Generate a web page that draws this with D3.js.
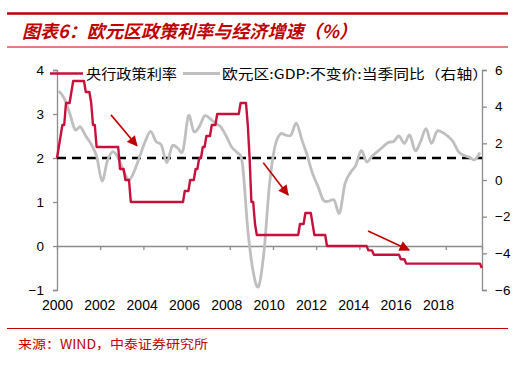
<!DOCTYPE html>
<html><head><meta charset="utf-8">
<script src="https://cdn.jsdelivr.net/npm/d3@7"></script>
<style>html,body{margin:0;padding:0;background:#fff;}svg{display:block;}</style>
</head><body>
<script>
// ---- data ----
const titleText = "图表6：欧元区政策利率与经济增速（%）";
const sourceText = "来源：WIND，中泰证券研究所";
const seriesNames = ["央行政策利率", "欧元区:GDP:不变价:当季同比（右轴）"];
const startYear = 2000;
// monthly ECB deposit facility rate, Jan 2000 – Sep 2019
const policyRate = [
  2.00,2.25,2.50,2.75,2.75,3.25,3.25,3.25,3.50,3.75,3.75,3.75,
  3.75,3.75,3.75,3.75,3.50,3.50,3.50,3.25,2.75,2.75,2.25,2.25,
  2.25,2.25,2.25,2.25,2.25,2.25,2.25,2.25,2.25,2.25,2.25,1.75,
  1.75,1.75,1.50,1.50,1.50,1.00,1.00,1.00,1.00,1.00,1.00,1.00,
  1.00,1.00,1.00,1.00,1.00,1.00,1.00,1.00,1.00,1.00,1.00,1.00,
  1.00,1.00,1.00,1.00,1.00,1.00,1.00,1.00,1.00,1.00,1.00,1.25,
  1.25,1.25,1.50,1.50,1.50,1.75,1.75,2.00,2.00,2.25,2.25,2.50,
  2.50,2.50,2.75,2.75,2.75,3.00,3.00,3.00,3.00,3.00,3.00,3.00,
  3.00,3.00,3.00,3.00,3.00,3.00,3.25,3.25,3.25,3.25,2.75,2.00,
  1.00,1.00,0.50,0.25,0.25,0.25,0.25,0.25,0.25,0.25,0.25,0.25,
  0.25,0.25,0.25,0.25,0.25,0.25,0.25,0.25,0.25,0.25,0.25,0.25,
  0.25,0.25,0.25,0.50,0.50,0.50,0.75,0.75,0.75,0.75,0.50,0.25,
  0.25,0.25,0.25,0.25,0.25,0.25,0.00,0.00,0.00,0.00,0.00,0.00,
  0.00,0.00,0.00,0.00,0.00,0.00,0.00,0.00,0.00,0.00,0.00,0.00,
  0.00,0.00,0.00,0.00,0.00,-0.10,-0.10,-0.10,-0.20,-0.20,-0.20,-0.20,
  -0.20,-0.20,-0.20,-0.20,-0.20,-0.20,-0.20,-0.20,-0.20,-0.20,-0.20,-0.30,
  -0.30,-0.30,-0.40,-0.40,-0.40,-0.40,-0.40,-0.40,-0.40,-0.40,-0.40,-0.40,
  -0.40,-0.40,-0.40,-0.40,-0.40,-0.40,-0.40,-0.40,-0.40,-0.40,-0.40,-0.40,
  -0.40,-0.40,-0.40,-0.40,-0.40,-0.40,-0.40,-0.40,-0.40,-0.40,-0.40,-0.40,
  -0.40,-0.40,-0.40,-0.40,-0.40,-0.40,-0.40,-0.40,-0.50
];
const gdpYoY = [
  4.85,4.45,3.65,2.75, 2.90,2.40,1.95,1.30, -0.05,1.05,1.55,1.20,
  0.50,0.00,0.50,1.30, 2.10,2.65,2.10,1.90, 0.95,1.85,1.75,1.60,
  3.50,2.65,2.90,3.50, 3.35,3.10,2.90,2.40, 1.80,1.50,0.90,-2.70,
  -5.00,-5.80,-3.90,-0.30, 1.80,2.50,2.45,2.45, 3.10,2.20,1.35,0.35,
  -0.35,-1.10,-1.15,-1.10, -1.80,-0.20,0.40,0.80, 1.60,1.00,1.30,1.55,
  1.80,2.05,2.10,2.40, 2.00,2.45,1.60,2.10, 2.80,2.00,2.65,2.60,
  2.40,2.10,1.55,1.35, 1.25,1.10,1.50
];
const refLineValue = 2;
const leftTicks = [-1,0,1,2,3,4];
const rightTicks = [-6,-4,-2,0,2,4,6];
const xTickYears = [2000,2002,2004,2006,2008,2010,2012,2014,2016,2018];
// annotation arrows [x1(year), y1(left value), x2(year), y2(left value)]
const arrowsData = [
  [2002.50, 2.98, 2003.70, 2.28],
  [2009.55, 1.89, 2010.70, 1.16],
  [2014.40, 0.34, 2016.30, -0.09]
];

// ---- chart ----
const W = 532, H = 368;
const RED = "#c00000", RATE = "#c8103c", GRAY = "#bfbfbf", AX = "#8c8c8c";
const svg = d3.select("body").append("svg").attr("width", W).attr("height", H);
svg.append("rect").attr("width", W).attr("height", H).attr("fill", "#fff");

const x = d3.scaleLinear().domain([2000, 2000 + 425/21.6]).range([57, 482]);
const xLab = d3.scaleLinear().domain([2000, 2018]).range([57, 438]);
const yL = d3.scaleLinear().domain([-1, 4]).range([290, 70]);
const yR = d3.scaleLinear().domain([-6, 6]).range([290, 70]);

// header / footer rules
svg.append("line").attr("x1", 7).attr("x2", 508).attr("y1", 13.5).attr("y2", 13.5)
  .attr("stroke", RED).attr("stroke-width", 2.6);
svg.append("line").attr("x1", 7).attr("x2", 508).attr("y1", 47).attr("y2", 47)
  .attr("stroke", RED).attr("stroke-width", 1.2);
svg.append("line").attr("x1", 7).attr("x2", 508).attr("y1", 328.5).attr("y2", 328.5)
  .attr("stroke", RED).attr("stroke-width", 1.2);
svg.append("text").attr("x", 22).attr("y", 38).text(titleText)
  .attr("font-family", "'Noto Sans CJK SC', sans-serif").attr("font-size", 18)
  .attr("font-weight", "bold").attr("font-style", "italic").attr("fill", RED)
  .attr("textLength", 335).attr("lengthAdjust", "spacingAndGlyphs");
svg.append("text").attr("x", 18).attr("y", 349).text(sourceText)
  .attr("font-family", "'Noto Sans CJK SC', sans-serif").attr("font-size", 12.5)
  .attr("fill", RED).attr("textLength", 190).attr("lengthAdjust", "spacingAndGlyphs");

const numFont = "'Liberation Sans', Arial, sans-serif";

// left axis
const gL = svg.append("g").attr("transform", "translate(57,0)")
  .call(d3.axisLeft(yL).tickValues(leftTicks).tickSize(4).tickPadding(9)
    .tickFormat(d => d < 0 ? "\u2212" + Math.abs(d) : d));
gL.select(".domain").attr("stroke", AX).attr("stroke-width", 1.3);
gL.selectAll(".tick line").attr("stroke", AX).attr("stroke-width", 1.3);
gL.selectAll("text").attr("font-family", numFont).attr("font-size", 13.5).attr("fill", "#000");

// right axis
const gR = svg.append("g").attr("transform", "translate(482,0)")
  .call(d3.axisRight(yR).tickValues(rightTicks).tickSize(5).tickPadding(8)
    .tickFormat(d => d < 0 ? "\u2212" + Math.abs(d) : d));
gR.select(".domain").attr("stroke", AX).attr("stroke-width", 1.3);
gR.selectAll(".tick line").attr("stroke", AX).attr("stroke-width", 1.3);
gR.selectAll("text").attr("font-family", numFont).attr("font-size", 13.5).attr("fill", "#000");

// x axis line and ticks at left value 0
const gX = svg.append("g").attr("transform", `translate(0,${yL(0)})`)
  .call(d3.axisBottom(x).tickValues(xTickYears.slice(1)).tickSize(4).tickFormat(""));
gX.select(".domain").attr("stroke", AX).attr("stroke-width", 1.3);
gX.selectAll(".tick line").attr("stroke", AX).attr("stroke-width", 1.3);
// x labels at the bottom
const gXL = svg.append("g").attr("transform", "translate(0,300)")
  .call(d3.axisBottom(xLab).tickValues(xTickYears).tickSize(0).tickPadding(0).tickFormat(d3.format("d")));
gXL.select(".domain").remove();
gXL.selectAll("text").attr("font-family", numFont).attr("font-size", 14).attr("fill", "#000");

// reference dashed line
svg.append("line").attr("x1", 57).attr("x2", 482).attr("y1", yL(refLineValue)).attr("y2", yL(refLineValue))
  .attr("stroke", "#000").attr("stroke-width", 2.3).attr("stroke-dasharray", "9,6");

// GDP line (right axis)
const gdpLine = d3.line()
  .x((d, i) => x(startYear + i / 4 + 1 / 12))
  .y(d => yR(d))
  .curve(d3.curveCardinal.tension(0));
svg.append("path").datum(gdpYoY).attr("d", gdpLine)
  .attr("fill", "none").attr("stroke", GRAY).attr("stroke-width", 2.8).attr("stroke-linejoin", "round");

// policy rate line (left axis)
const rateLine = d3.line()
  .x((d, i) => x(startYear + i / 12))
  .y(d => yL(d));
svg.append("path").datum(policyRate).attr("d", rateLine)
  .attr("fill", "none").attr("stroke", RATE).attr("stroke-width", 2.4).attr("stroke-linejoin", "round");

// arrows
const defs = svg.append("defs");
defs.append("marker").attr("id", "ah").attr("viewBox", "0 0 10 10").attr("refX", 9).attr("refY", 5)
  .attr("markerWidth", 7).attr("markerHeight", 6.5).attr("markerUnits", "strokeWidth").attr("orient", "auto")
  .append("path").attr("d", "M0,0 L10,5 L0,10 Z").attr("fill", RED);
svg.selectAll("line.arrow").data(arrowsData).enter().append("line").attr("class", "arrow")
  .attr("x1", d => x(d[0])).attr("y1", d => yL(d[1]))
  .attr("x2", d => x(d[2])).attr("y2", d => yL(d[3]))
  .attr("stroke", RED).attr("stroke-width", 1.6).attr("marker-end", "url(#ah)");

// legend
const cjk = "'Noto Sans CJK SC', sans-serif";
svg.append("line").attr("x1", 50).attr("x2", 83).attr("y1", 73.5).attr("y2", 73.5)
  .attr("stroke", RATE).attr("stroke-width", 2.6);
svg.append("text").attr("x", 86).attr("y", 78.5).text(seriesNames[0])
  .attr("font-family", cjk).attr("font-size", 13.5).attr("fill", "#000")
  .attr("textLength", 91).attr("lengthAdjust", "spacingAndGlyphs");
svg.append("line").attr("x1", 183).attr("x2", 220).attr("y1", 73.5).attr("y2", 73.5)
  .attr("stroke", GRAY).attr("stroke-width", 2.8);
svg.append("text").attr("x", 222).attr("y", 78.5).text(seriesNames[1])
  .attr("font-family", cjk).attr("font-size", 13.5).attr("fill", "#000")
  .attr("textLength", 266).attr("lengthAdjust", "spacingAndGlyphs");
</script>
</body></html>
